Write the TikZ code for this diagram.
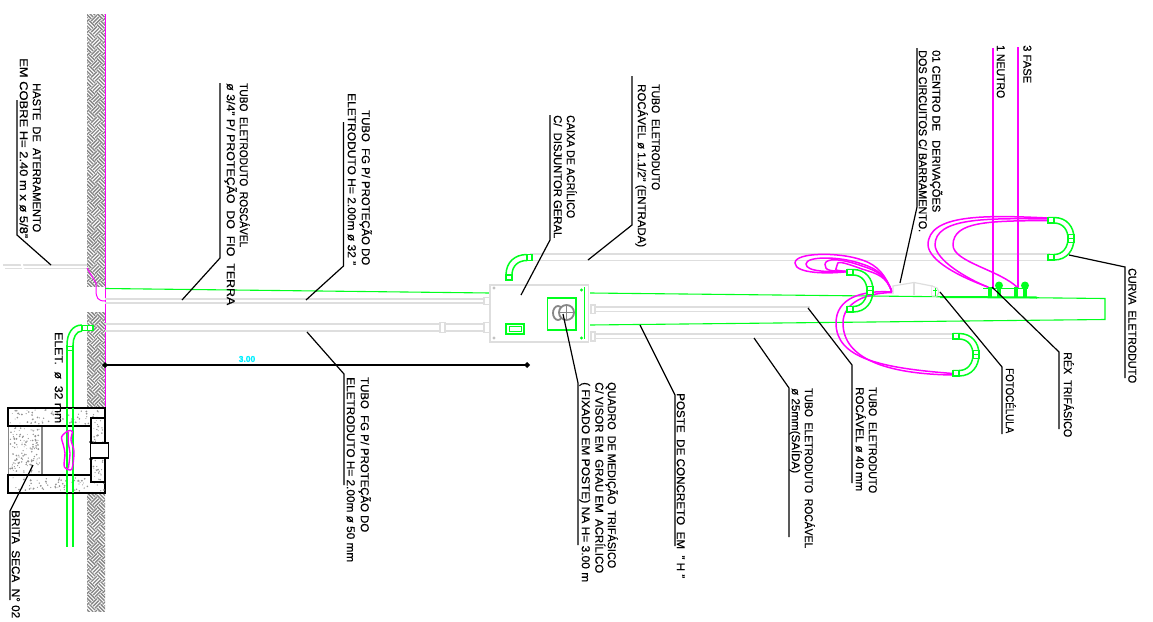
\documentclass[tikz,border=0pt]{standalone}
\usepackage{graphicx}
\usepackage{fontspec}
\setmainfont[FakeBold=0.5]{Liberation Sans}
\definecolor{mg}{RGB}{255,0,255}
\definecolor{gn}{RGB}{0,255,30}
\definecolor{cy}{RGB}{0,240,255}
\definecolor{lg}{RGB}{222,222,222}
\definecolor{hg}{RGB}{135,135,135}
\tikzset{
 lbl/.style={rotate=-90,anchor=west,inner sep=0pt,text height=8.3pt,text depth=0pt,font=\fontsize{11.4}{12}\selectfont,text=black},
 leader/.style={draw=black,line width=1.2pt},
 pipe/.style={draw=lg,line width=1.5pt},
 gw/.style={draw=gn,line width=1.5pt},
 mw/.style={draw=mg,line width=1.5pt},
 slab/.style={draw=black,line width=1.5pt,fill=white},
}
% name, x-centre, y-start, y-end, text
\newcommand{\txt}[5]{\node[lbl] (#1) at (#2,#3) {\resizebox{\dimexpr #4pt-#3pt\relax}{\height}{#5}};}
\newcommand{\weave}[2]{%
 \pgfmathsetmacro{\wmid}{(#1+#2)/2}
 \pgfmathtruncatemacro{\nn}{(#2-#1)/2/5+4}
 \begin{scope}
 \clip (87,#1) rectangle (105,#2);
 \begin{scope}[shift={(96,\wmid)},rotate=45]
 \foreach \i in {-\nn,...,\nn}{\foreach \d in {-3,...,3}{
   \pgfmathtruncatemacro{\pp}{abs(\d)}
   \pgfmathtruncatemacro{\jj}{\d-\i}
   \ifodd\pp
     \draw[hg,line width=1.35pt] (\i*8,\jj*8+1.33)--+(8,0) (\i*8,\jj*8+4)--+(8,0) (\i*8,\jj*8+6.67)--+(8,0);
   \else
     \draw[hg,line width=1.35pt] (\i*8+1.33,\jj*8)--+(0,8) (\i*8+4,\jj*8)--+(0,8) (\i*8+6.67,\jj*8)--+(0,8);
   \fi
 }}
 \end{scope}
 \end{scope}}
% U-shaped green elbow: top-left x,y
\newcommand{\uelbow}[2]{%
 \begin{scope}[shift={(#1,#2)}]
  \draw[gw] (0,0.5) -- (6,0.5) .. controls (19,0.5) and (26,10) .. (26,21.5) .. controls (26,33) and (19,43) .. (6,43) -- (0,43);
  \draw[gw] (0,6) -- (6,6) .. controls (15,6) and (20,13) .. (20,21.5) .. controls (20,30) and (15,37.5) .. (6,37.5) -- (0,37.5);
  \draw[gw,fill=white,line width=1.1pt] (0,0.5) rectangle (6,6);
  \draw[gw,fill=white,line width=1.1pt] (0,37.5) rectangle (6,43);
  \draw[gw,fill=white,line width=1.1pt] (20,17.5) rectangle (26,25.5);
  \draw[gw,line width=.9pt] (20,21.5) -- (26,21.5);
 \end{scope}}
\newcommand{\stip}[5]{% x0 y0 w h n
 \foreach \n in {1,...,#5}{\pgfmathsetmacro{\sx}{#1+rnd*#3}\pgfmathsetmacro{\sy}{#2+rnd*#4}\pgfmathsetmacro{\sr}{.4+.6*rnd}
   \fill[gray!85] (\sx,\sy) circle (\sr pt);}}
\newcommand{\cloop}[3]{% left, top, bottom
 \pgfmathsetmacro{\cmid}{(#2+#3)/2}
 \pgfmathsetmacro{\ctp}{#2-1}\pgfmathsetmacro{\ctq}{#2+7}\pgfmathsetmacro{\ctr}{#2+12}\pgfmathsetmacro{\ctb}{#3+1}
 \draw[mw] (848,271.5) .. controls (830,\ctb) and (#1,\ctb) .. (#1,\cmid) .. controls (#1,\ctp) and (840,\ctp) .. (862,\ctq) .. controls (878,\ctr) and (886,276) .. (892,292);}
\begin{document}
\begin{tikzpicture}[x=1pt,y=-1pt]
\useasboundingbox (0,0) rectangle (1153,621);
\fill[white] (0,0) rectangle (1153,621);
\pgfmathsetseed{4711}
% ground
\weave{14}{286}
\weave{312}{408}
\weave{494}{611}
\draw[mg,line width=1pt] (105,14) -- (105,408);
% rod
\draw[lg,line width=1.6pt] (3,265)--(87,265) (5,268.5)--(87,268.5);
\draw[white,line width=2pt] (21,262)--(24,271);
% pipes
\draw[pipe] (105,299)--(484,299) (105,303)--(484,303);
\draw[pipe] (105,324)--(484,324) (105,331)--(484,331);
\draw[pipe,fill=white] (440,322.5) rectangle (445,332.5);
\draw[pipe,fill=white] (484,297.5) rectangle (490,304.5) (484,322.5) rectangle (490,332.5);
\draw[pipe] (530,254)--(1050,254) (530,260.5)--(1050,260.5);
\draw[pipe] (590,307)--(810,307) (590,311.5)--(810,311.5);
\draw[pipe] (590,334)--(955,334) (590,338.5)--(955,338.5);
\draw[pipe,fill=white] (591,305)rectangle(595,313.5) (591,332)rectangle(595,341);
% pole
\draw[gn,line width=1.1pt] (105,288.5)--(490,293);
\draw[gn,line width=1.1pt] (590,293)--(1105,298.5)--(1105,319.5)--(590,325);
% box
\draw[draw=lg,line width=1.6pt,fill=white] (490,285) rectangle (588.5,342);
\foreach \a/\b in {494/288,494/338}{\fill[lg!70!gray] (\a,\b) circle (1.6pt);}
\fill[gn] (581.5,290) circle (1.6pt) (581.5,338) circle (1.6pt);
\draw[gn,line width=1.3pt] (584.5,287)--(584.5,339);
\draw[gn,line width=1.5pt] (547.5,298) rectangle (576,330);
\draw[hg,line width=1.8pt] (558,313) ellipse (5pt and 7pt);
\draw[hg,line width=1.8pt,fill=white] (566.5,312.5) circle (7.5pt);
\draw[hg,line width=1.1pt] (559,312.5)--(574,312.5) (566.5,305)--(566.5,320);
\draw[gn,line width=1.3pt] (506,324) rectangle (524,334);
\draw[gn,line width=1pt] (509,326.5) rectangle (521,331.5);
% box elbow
\draw[gw] (506,275) .. controls (506,262) and (515,254.5) .. (527,254.5);
\draw[gw] (512,275) .. controls (512,266) and (518,260.5) .. (527,260.5);
\draw[gw,fill=white] (506,275) rectangle (512,280);
\draw[gw,fill=white] (527,254.5) rectangle (532,260.5);
% ground elbow
\draw[gw] (67,345) .. controls (67,334) and (72,325) .. (82,325);
\draw[gw] (73,345) .. controls (73,338) and (76,331) .. (82,331);
\draw[gw,fill=white,line width=1.1pt] (82,325.5) rectangle (93,330.5);
\draw[gw,line width=1pt] (87,325.5)--(87,330.5);
\draw[gw] (67,345)--(67,547) (73,345)--(73,547);
\draw[gw,line width=1pt] (67,346)--(73,346) (67,350)--(73,350);
% pit
\draw[slab] (8,408) rectangle (105,426);
\draw[slab] (8,475) rectangle (105,493);
\draw[hg,line width=1.3pt,fill=white] (8.5,426) rectangle (42,475);
\draw[black,line width=1.5pt] (8,426)--(91,426) (8,475)--(91,475);
\draw[black,line width=1.5pt] (8,408)--(8,426) (8,475)--(8,493);
\stip{10}{410}{94}{14}{75}
\stip{10}{477}{94}{14}{75}
\stip{10}{428}{30}{45}{140}
\draw[gw] (67,408)--(67,431) (73,408)--(73,431) (67,470)--(67,493) (73,470)--(73,493);
\draw[slab] (91,418) rectangle (105,482);
\draw[slab] (91,443) -- (108.5,443) -- (108.5,458) -- (91,458);
\fill (91,442) circle (1.8pt) (91,459) circle (1.8pt);
\stip{93}{420}{10}{22}{20}
\stip{93}{460}{10}{20}{20}
\draw[mg,line width=1.4pt] plot[smooth cycle] coordinates {(68.3,430.7)(61.7,436.7)(63.3,445)(65,453.3)(64.3,466.7)(71.7,469.3)(74,451.7)(71,440)(72.3,431.7)};
\draw[mg,line width=1.4pt] plot[smooth] coordinates {(68.3,431.5)(68.3,443)(70,453.3)(68.3,468.5)};
% earth wire
\draw[mg,line width=1pt] (87,268) -- (96,283) -- (96,290) .. controls (96,298) and (98,301) .. (105,301);
% neutral/phases
\draw[mw] (993,48)--(993,288);
\draw[mw] (1018,47)--(1018,288);
% magenta loop A
\draw[mw] (1048,218) .. controls (985,215) and (928,214) .. (928,245) .. controls (929,261) and (960,277) .. (988,287);
\draw[mw] (1048,219) .. controls (985,218) and (935,218) .. (935,245) .. controls (936,260) and (965,278) .. (990,288);
\draw[mw] (1048,220.5) .. controls (990,221) and (953,221) .. (953,245) .. controls (953,262) and (1000,270) .. (1018,288);
% magenta loop B
\draw[mw] (953,373.5) .. controls (880,368) and (836,358) .. (836,323) .. controls (836,298) and (862,290) .. (892,292);
\draw[mw] (953,375) .. controls (885,374) and (843,358) .. (843,323) .. controls (843,303) and (865,293) .. (892,292.5);
% magenta loop C
\cloop{795}{253}{273}
\cloop{806}{257}{271}
\cloop{825}{259}{270}
\cloop{837}{262}{269}
% green elbows
\uelbow{1048}{217}
\uelbow{953}{333}
\uelbow{847}{269}
% fotocell
\draw[lg,line width=1.2pt] (893,294)--(893,286)--(914,282.5)--(932,286)--(932,296);
\draw[lg,line width=1.2pt] (914,283)--(914,295);
\draw[lg,line width=1.2pt,fill=white] (932,286)--(937,288)--(939,292)--(937,296)--(932,296);
\draw[gn,line width=1pt] (935,288)--(935,296) (933,290)--(937,290);
% rex
\draw[gn,line width=2pt] (940,297)--(1037,297.5);
\draw[gn,line width=1.4pt] (983,288.5)--(1028,288.5);
\foreach \a in {988,1014}{
 \fill[gn] (\a,287) rectangle (\a+4,297);
 \fill[gn] (\a+9,287) rectangle (\a+13,297);
 \fill[gn] (\a+11,285.5) circle (4pt);
}
% leaders
\draw[leader] (17,100)--(17,235)--(51,265);
\draw[leader] (220,83)--(220,258)--(182,300);
\draw[leader] (343.5,122)--(343.5,266)--(306,300);
\draw[leader] (550,115)--(550,240)--(521,295);
\draw[leader] (632,76)--(632,225)--(588,260);
\draw[leader] (917,48)--(917,207)--(900,283);
\draw[leader] (1069,255)--(1125,267)--(1125,378);
\draw[leader] (992,287)--(1059,352)--(1059,429);
\draw[leader] (940,292)--(1002,367)--(1002,434);
\draw[leader] (808,308)--(852,365)--(852,483);
\draw[leader] (754,338)--(789,388)--(789,537);
\draw[leader] (640,325)--(675,395)--(675,546);
\draw[leader] (563,314)--(578,383)--(578,545);
\draw[leader] (307,332)--(344,374)--(344,485);
\draw[leader] (33,465)--(10,511)--(10,600);
% dimension
\draw[draw=black,line width=1.3pt] (105,365)--(527,365);
\fill (102,365)--(105,362)--(108,365)--(105,368)--cycle;
\fill (524,365)--(527,362)--(530,365)--(527,368)--cycle;
\node (dim) at (247,359) [font=\bfseries\fontsize{8.5}{10}\selectfont,text=cy,inner sep=0pt] {3.00};
% labels
\txt{t1}{37}{83}{232}{HASTE\ \ DE\ \ ATERRAMENTO}
\txt{t2}{24}{58}{238}{EM COBRE H= 2.40 m x ø 5/8"}
\txt{t3}{244}{83}{247}{TUBO\ \ ELETRODUTO\ \ ROSCÁVEL}
\txt{t4}{231}{83}{305}{ø 3/4" P/ PROTEÇÃO\ \ DO\ \ FIO\ \ TERRA}
\txt{t5}{366}{110}{265}{TUBO\ \ FG P/ PROTEÇÃO DO}
\txt{t6}{352}{93}{265}{ELETRODUTO H= 2.00m ø 32 "}
\txt{t7}{571}{115}{218}{CAIXA DE ACRÍLICO}
\txt{t8}{558}{115}{238}{C/\ \ DISJUNTOR GERAL}
\txt{t9}{656}{84}{190}{TUBO\ \ ELETRODUTO}
\txt{t10}{642}{84}{247}{ROCÁVEL ø 1.1/2" (ENTRADA)}
\txt{t11}{936.5}{50}{212}{01 CENTRO DE\ \ \ DERIVAÇÕES}
\txt{t12}{923}{50}{232}{DOS CIRCUITOS C/ BARRAMENTO.}
\txt{t13}{1001}{45}{98}{1 NEUTRO}
\txt{t14}{1027.5}{45}{83}{3 FASE}
\txt{t15}{1132.5}{268}{383}{CURVA\ \ ELETRODUTO}
\txt{t16}{1068}{352}{437}{RÉX\ \ TRIFÁSICO}
\txt{t17}{1010}{368}{433}{FOTOCÉLULA}
\txt{t18}{873}{387}{493}{TUBO\ \ ELETRODUTO}
\txt{t19}{860}{387}{491}{ROCÁVEL ø 40 mm}
\txt{t20}{809}{388}{548}{TUBO\ \ ELETRODUTO\ \ ROCÁVEL}
\txt{t21}{796}{388}{473}{ø 25mm(SAÍDA)}
\txt{t22}{681}{393}{578}{POSTE\ \ DE CONCRETO\ \ EM\ \ " H "}
\txt{t23}{612}{382}{568}{QUADRO\ \ DE MEDIÇÃO\ \ TRIFÁSICO}
\txt{t24}{599.5}{382}{573}{C/ VISOR EM\ \ GRAU EM\ \ ACRÍLICO}
\txt{t25}{586}{382}{582}{( FIXADO EM POSTE) NA H= 3.00 m}
\txt{t26}{365}{377}{532}{TUBO\ \ FG P/ PROTEÇÃO DO}
\txt{t27}{351}{377}{562}{ELETRODUTO H= 2.00m ø 50 mm}
\txt{t28}{16}{510}{618}{BRITA\ \ SECA\ \ N° 02}
\txt{t29}{59}{332}{423}{ELET.\ \ ø\ \ 32 mm}
\end{tikzpicture}
\end{document}
